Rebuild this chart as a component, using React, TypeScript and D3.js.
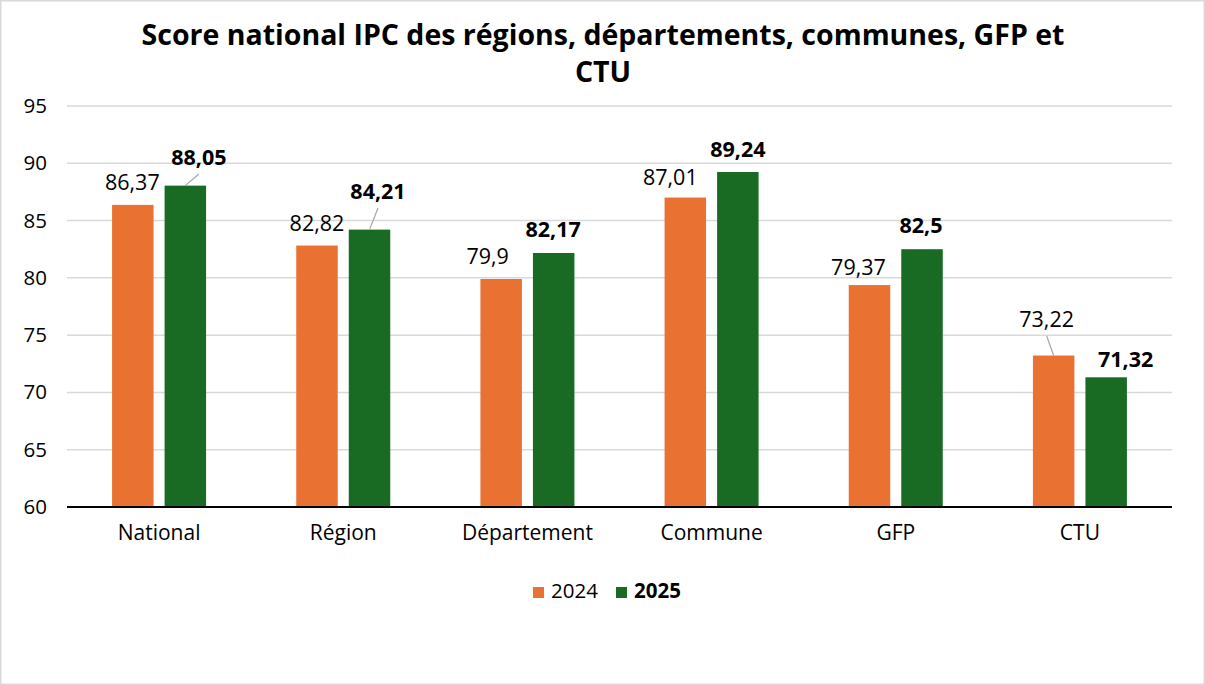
import React from "react";
import * as d3 from "d3";

const categories = ["National", "Région", "Département", "Commune", "GFP", "CTU"];
const seriesNames = ["2024", "2025"];
const values2024 = [86.37, 82.82, 79.9, 87.01, 79.37, 73.22];
const values2025 = [88.05, 84.21, 82.17, 89.24, 82.5, 71.32];
const labels2024 = ["86,37", "82,82", "79,9", "87,01", "79,37", "73,22"];
const labels2025 = ["88,05", "84,21", "82,17", "89,24", "82,5", "71,32"];
const yTicks = [60, 65, 70, 75, 80, 85, 90, 95];
const titleLines = ["Score national IPC des régions, départements, communes, GFP et", "CTU"];

// label placement (layout), relative to bar center / bar top
const labelShift2024: [number, number, boolean][] = [
  [-0.5, -15, false], [0, -15, false], [-13.5, -15, false], [-15, -12.5, false], [-11, -10, false], [-7, -28.5, true],
];
const labelShift2025: [number, number, boolean][] = [
  [13.5, -20.6, true], [8.5, -30.6, true], [-0.5, -16, false], [0, -15, false], [-1, -16, false], [19.5, -10, false],
];

const W = 1205;
const H = 685;
const FONT = "'Open Sans', 'Noto Sans', sans-serif";
const colors = ["#E97132", "#196B24"];

export default function App() {
  const left = 67, right = 1172, top = 106, bottom = 507;
  const y = d3.scaleLinear().domain([60, 95]).range([bottom, top]);
  const x0 = d3.scaleBand<string>().domain(categories).range([left, right]);
  const groupW = 94;
  const x1 = d3.scaleBand<string>().domain(seriesNames).range([0, groupW]).paddingInner(0.21);
  const off = (x0.bandwidth() - groupW) / 2;
  const series = [
    { name: "2024", values: values2024, labels: labels2024, shift: labelShift2024, bold: false },
    { name: "2025", values: values2025, labels: labels2025, shift: labelShift2025, bold: true },
  ];

  return (
    <div>
      <style>{`body{margin:0}`}</style>
      <svg width={W} height={H} style={{ display: "block", fontFamily: FONT }}>
        <rect x={0.75} y={0.75} width={W - 1.5} height={H - 1.5} fill="#fff" stroke="#d9d9d9" strokeWidth={1.5} />
        <text x={603} y={45} textAnchor="middle" fontSize={28.5} fontWeight={700} fill="#000">
          {titleLines[0]}
        </text>
        <text x={603} y={82} textAnchor="middle" fontSize={28.5} fontWeight={700} fill="#000">
          {titleLines[1]}
        </text>
        {yTicks.map((t) => (
          <g key={t}>
            {t !== 60 && (
              <line x1={left} x2={right} y1={y(t)} y2={y(t)} stroke="#d9d9d9" strokeWidth={1.5} />
            )}
            <text x={47} y={y(t) + 7} textAnchor="end" fontSize={20.5} fill="#000">
              {t}
            </text>
          </g>
        ))}
        {series.map((s, si) =>
          categories.map((c, ci) => {
            const bx = (x0(c) as number) + off + (x1(s.name) as number);
            const bw = x1.bandwidth();
            const by = y(s.values[ci]);
            return (
              <rect key={s.name + c} x={bx} y={by} width={bw} height={bottom - by} fill={colors[si]} />
            );
          })
        )}
        <line x1={left} x2={right} y1={bottom} y2={bottom} stroke="#000" strokeWidth={2} />
        {series.map((s, si) =>
          categories.map((c, ci) => {
            const bx = (x0(c) as number) + off + (x1(s.name) as number);
            const cx = bx + x1.bandwidth() / 2;
            const by = y(s.values[ci]);
            const [dx, dy, leader] = s.shift[ci];
            const lx = cx + dx;
            const ly = by + dy;
            return (
              <g key={"l" + s.name + c}>
                {leader && (
                  <line x1={lx} y1={ly + 9} x2={cx} y2={by} stroke="#a6a6a6" strokeWidth={1.2} />
                )}
                <text x={lx} y={ly} textAnchor="middle" fontSize={21.5} fontWeight={s.bold ? 700 : 400} fill="#000">
                  {s.labels[ci]}
                </text>
              </g>
            );
          })
        )}
        {categories.map((c) => (
          <text key={c} x={(x0(c) as number) + x0.bandwidth() / 2} y={540} textAnchor="middle" fontSize={21} fill="#000">
            {c}
          </text>
        ))}
        {series.map((s, si) => {
          const lx = si === 0 ? 533 : 616;
          return (
            <g key={"leg" + s.name}>
              <rect x={lx} y={587} width={11} height={11} fill={colors[si]} />
              <text x={lx + 18} y={598} fontSize={20.5} fontWeight={s.bold ? 700 : 400} fill="#000">
                {s.name}
              </text>
            </g>
          );
        })}
      </svg>
    </div>
  );
}
